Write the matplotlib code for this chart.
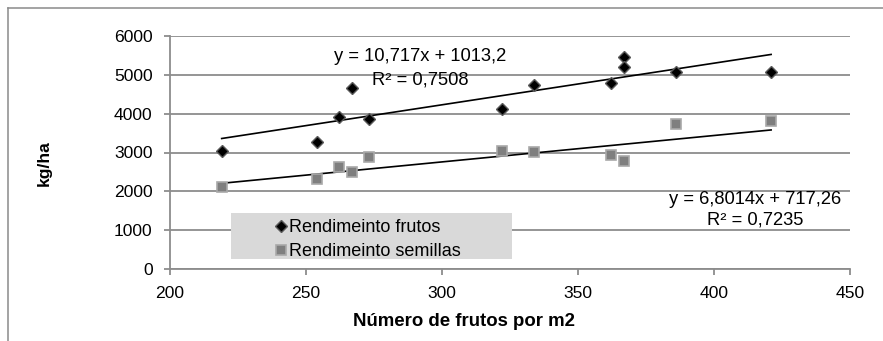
import matplotlib
matplotlib.use("Agg")
import matplotlib.pyplot as plt
from matplotlib.lines import Line2D
from matplotlib.patches import Rectangle
import numpy as np

plt.rcParams['font.family'] = ['Liberation Sans', 'DejaVu Sans']

# ---- data ----
frutos_m2 = [219, 254, 262, 267, 273, 322, 334, 362, 367, 367, 386, 421]
rend_frutos = [3030, 3270, 3920, 4670, 3860, 4120, 4740, 4780, 5470, 5210, 5070, 5070]
frutos_m2_s = [219, 254, 262, 267, 273, 322, 334, 362, 367, 386, 421]
rend_semillas = [2120, 2310, 2630, 2500, 2890, 3050, 3020, 2930, 2780, 3740, 3820]

fit_frutos = [10.717, 1013.2]
fit_semillas = [6.8014, 717.26]
r2_frutos = 0.7508
r2_semillas = 0.7235

series_names = ["Rendimeinto frutos", "Rendimeinto semillas"]
x_label = "Número de frutos por m2"
y_label = "kg/ha"
x_ticks = [200, 250, 300, 350, 400, 450]
y_ticks = [0, 1000, 2000, 3000, 4000, 5000, 6000]


def fmt(v, nd):
    return f"{v:.{nd}f}".replace(".", ",")


W, H = 883, 341
fig = plt.figure(figsize=(W / 100, H / 100), dpi=100)
ax = fig.add_axes([170 / W, (H - 269) / H, 680 / W, (269 - 36) / H])

grid_c = "#8c8c8c"
ax.set_xlim(x_ticks[0], x_ticks[-1])
ax.set_ylim(y_ticks[0], y_ticks[-1])
ax.set_xticks(x_ticks)
ax.set_yticks(y_ticks)
ax.yaxis.grid(True, color=grid_c, linewidth=1.3)
ax.set_axisbelow(True)
for s in ["top", "right"]:
    ax.spines[s].set_visible(False)
for s in ["left", "bottom"]:
    ax.spines[s].set_color(grid_c)
    ax.spines[s].set_linewidth(1.3)
ax.tick_params(axis="both", colors=grid_c, labelcolor="black", labelsize=12.6,
               length=4, width=1.3, direction="out", pad=8.5)

# legend background box
ax.add_patch(Rectangle(((231 - 170) / 680, (269 - 259) / 233), (512 - 231) / 680,
                       (259 - 213) / 233, transform=ax.transAxes,
                       facecolor="#d9d9d9", edgecolor="none", zorder=1))

# trendlines
xf = np.array([min(frutos_m2), max(frutos_m2)])
ax.plot(xf, fit_frutos[0] * xf + fit_frutos[1], color="black", lw=1.2, zorder=2)
xs = np.array([min(frutos_m2_s), max(frutos_m2_s)])
ax.plot(xs, fit_semillas[0] * xs + fit_semillas[1], color="black", lw=1.2, zorder=2)

# points
ax.plot(frutos_m2, rend_frutos, linestyle="none", marker="D", ms=5.8,
        markerfacecolor="black", markeredgecolor="#5a5a5a", markeredgewidth=1.0,
        label=series_names[0], zorder=3)
ax.plot(frutos_m2_s, rend_semillas, linestyle="none", marker="s", ms=7.0,
        markerfacecolor="#7f7f7f", markeredgecolor="#a9a9a9", markeredgewidth=1.2,
        label=series_names[1], zorder=3)

leg = ax.legend(loc="upper left", bbox_to_anchor=((275 - 170) / 680, (269 - 219.5) / 233),
                frameon=False, fontsize=13, borderpad=0, borderaxespad=0,
                handlelength=0.65, handletextpad=0.15, labelspacing=0.38,
                numpoints=1)

# equations
ax.text((420 - 170) / 680, (269 - 56.7) / 233,
        f"y = {fmt(fit_frutos[0], 3)}x + {fmt(fit_frutos[1], 1)}",
        transform=ax.transAxes, ha="center", va="center", fontsize=13.2)
ax.text((420 - 170) / 680, (269 - 80) / 233, f"R² = {fmt(r2_frutos, 4)}",
        transform=ax.transAxes, ha="center", va="center", fontsize=13.2)
ax.text((755 - 170) / 680, (269 - 200) / 233,
        f"y = {fmt(fit_semillas[0], 4)}x + {fmt(fit_semillas[1], 2)}",
        transform=ax.transAxes, ha="center", va="center", fontsize=13.2)
ax.text((755 - 170) / 680, (269 - 220) / 233, f"R² = {fmt(r2_semillas, 4)}",
        transform=ax.transAxes, ha="center", va="center", fontsize=13.2)

ax.set_xlabel(x_label, fontsize=13.4, fontweight="bold")
ax.xaxis.set_label_coords((464 - 170) / 680, (269 - 321) / 233)
ax.xaxis.label.set_va("center")
ax.set_ylabel(y_label, fontsize=12.5, fontweight="bold")
ax.yaxis.set_label_coords((44 - 170) / 680, (269 - 163.5) / 233)
ax.yaxis.label.set_va("center")

# outer frame (top and left)
fig.add_artist(Line2D([8 / W, 1.0], [1 - 8 / H, 1 - 8 / H], transform=fig.transFigure,
                      color="#8a8a8a", lw=1.1))
fig.add_artist(Line2D([8 / W, 8 / W], [0, 1 - 8 / H], transform=fig.transFigure,
                      color="#8a8a8a", lw=1.1))

fig.savefig("out.png", dpi=100)
